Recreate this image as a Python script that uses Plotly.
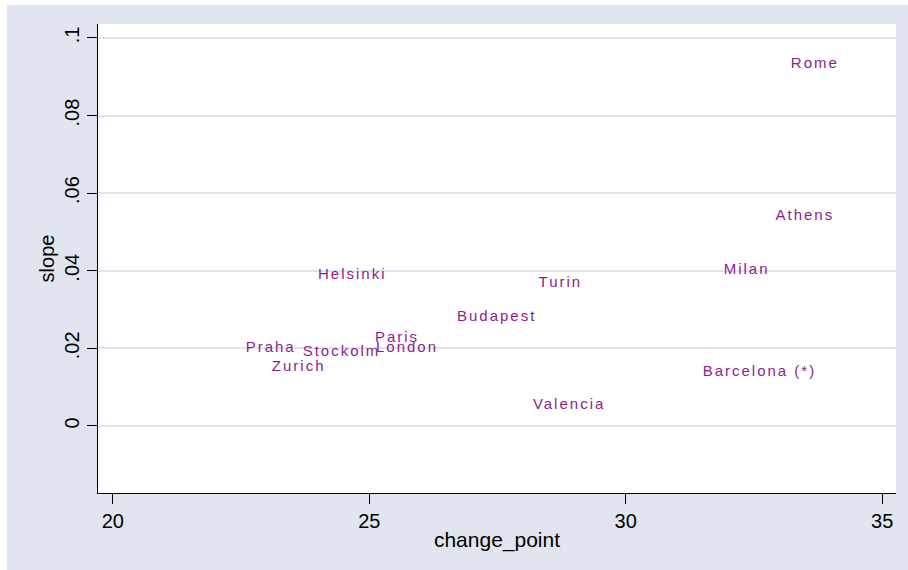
import plotly.graph_objects as go

# City-level estimates: age at the change point vs. slope after it
cities = ["Rome", "Athens", "Milan", "Barcelona (*)", "Turin", "Budapest",
          "Valencia", "Helsinki", "Paris", "London", "Praha", "Stockolm", "Zurich"]
change_point = [33.22, 32.92, 31.91, 31.50, 28.30, 26.71,
                28.19, 24.00, 25.11, 25.13, 22.59, 23.70, 23.10]
slope = [0.0931, 0.0541, 0.0400, 0.0137, 0.0369, 0.0279,
         0.0052, 0.0389, 0.0227, 0.0199, 0.0199, 0.0191, 0.0152]

x_ticks = [20, 25, 30, 35]
y_ticks = [0, 0.02, 0.04, 0.06, 0.08, 0.1]
y_tick_labels = ["0", ".02", ".04", ".06", ".08", ".1"]

FONT = "Liberation Sans, Arial, Helvetica, sans-serif"
LABEL_COLOR = "#8c1d8c"
BG = "#e0e5ef"
GRID = "#dfe5f0"

labels = ['<span style="letter-spacing:2px">%s</span>' % c for c in cities]

fig = go.Figure(
    go.Scatter(
        x=change_point,
        y=slope,
        mode="text",
        text=labels,
        textposition="middle right",
        textfont=dict(family=FONT, size=15, color=LABEL_COLOR),
        hoverinfo="skip",
        cliponaxis=False,
    )
)

fig.update_layout(
    width=908,
    height=570,
    margin=dict(l=98, r=12, t=24, b=77),
    paper_bgcolor=BG,
    plot_bgcolor="white",
    showlegend=False,
    font=dict(family=FONT, color="black"),
    shapes=[
        # thin white border strips along the top and left edges of the page
        dict(type="rect", xref="paper", yref="paper", x0=-0.13, x1=1.02,
             y0=1.0405, y1=1.1, fillcolor="white", line=dict(width=0), layer="above"),
        dict(type="rect", xref="paper", yref="paper", x0=-0.13, x1=-0.114,
             y0=-0.2, y1=1.1, fillcolor="white", line=dict(width=0), layer="above"),
    ],
)

fig.update_xaxes(
    range=[19.71, 35.27],
    tickmode="array",
    tickvals=x_ticks,
    ticks="outside",
    ticklen=10,
    tickwidth=1,
    tickcolor="black",
    tickfont=dict(family=FONT, size=20, color="black"),
    showline=True,
    linecolor="black",
    linewidth=1,
    showgrid=False,
    zeroline=False,
    title=dict(text="change_point", font=dict(family=FONT, size=21, color="black"), standoff=1),
)

fig.update_yaxes(
    range=[-0.0173, 0.1036],
    tickmode="array",
    tickvals=y_ticks,
    ticktext=y_tick_labels,
    tickangle=-90,
    ticks="outside",
    ticklen=10,
    tickwidth=1,
    tickcolor="black",
    tickfont=dict(family=FONT, size=20, color="black"),
    showline=True,
    linecolor="black",
    linewidth=1,
    showgrid=True,
    gridcolor=GRID,
    gridwidth=1.5,
    zeroline=False,
    title=dict(text="slope", font=dict(family=FONT, size=20, color="black"), standoff=1),
)

fig.write_html("out.html")
